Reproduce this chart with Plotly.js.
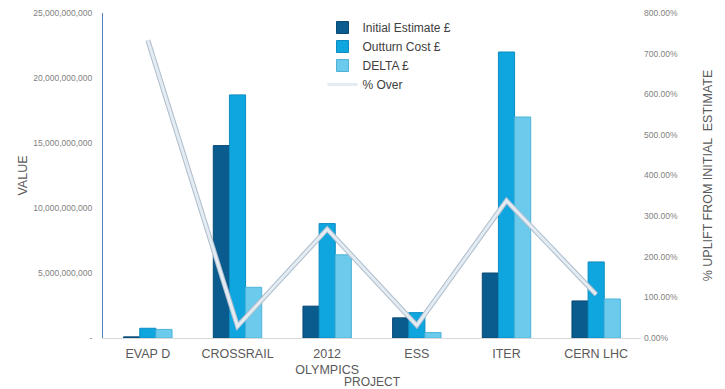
<!DOCTYPE html>
<html>
<head>
<meta charset="utf-8">
<script src="https://cdn.plot.ly/plotly-3.0.1.min.js"></script>
<style>html,body{margin:0;padding:0;background:#fff;}#chart{width:725px;height:389px;}</style>
</head>
<body>
<div id="chart"></div>
<script>
var projects = ["EVAP D", "CROSSRAIL", "2012<br>OLYMPICS", "ESS", "ITER", "CERN LHC"];
var initialEstimate = [0.09e9, 14.8e9, 2.45e9, 1.55e9, 5.0e9, 2.85e9];
var outturnCost = [0.75e9, 18.7e9, 8.8e9, 1.95e9, 22.0e9, 5.85e9];
var deltaCost = [0.66e9, 3.9e9, 6.4e9, 0.42e9, 17.0e9, 3.0e9];
var pctOver = [7.33, 0.29, 2.68, 0.31, 3.38, 1.07];
var leftTickVals = [0, 5e9, 10e9, 15e9, 20e9, 25e9];
var leftTickText = ["-", "5,000,000,000", "10,000,000,000", "15,000,000,000", "20,000,000,000", "25,000,000,000"];
var rightTickVals = [0, 1, 2, 3, 4, 5, 6, 7, 8];

var traces = [
  {type: "bar", name: "Initial Estimate £", x: projects, y: initialEstimate,
   marker: {color: "#0b5c8e", line: {color: "#084a74", width: 1}}},
  {type: "bar", name: "Outturn Cost £", x: projects, y: outturnCost,
   marker: {color: "#0fa6df", line: {color: "#0b8cc0", width: 1}}},
  {type: "bar", name: "DELTA £", x: projects, y: deltaCost,
   marker: {color: "#6ccbec", line: {color: "#4eb2d8", width: 1}}},
  {type: "scatter", mode: "lines", name: "% Over", x: projects, y: pctOver, yaxis: "y2",
   line: {color: "#aebccb", width: 5}, showlegend: false, hoverinfo: "skip"},
  {type: "scatter", mode: "lines", name: "% Over", x: projects, y: pctOver, yaxis: "y2",
   line: {color: "#e3ebf3", width: 3}}
];

var layout = {
  width: 725, height: 389,
  margin: {l: 103, r: 84, t: 13, b: 51},
  paper_bgcolor: "#ffffff", plot_bgcolor: "#ffffff",
  font: {family: "Liberation Sans, Arial, sans-serif", color: "#595959"},
  barmode: "group", bargap: 0.46, bargroupgap: 0,
  showlegend: true,
  legend: {x: 0.408, y: 1.0, xanchor: "left", yanchor: "top", bgcolor: "rgba(0,0,0,0)",
           font: {size: 12, color: "#404040"}, tracegroupgap: 6, itemwidth: 30},
  xaxis: {
    showline: true, linecolor: "#d9d9d9", linewidth: 1, ticks: "", showgrid: false,
    tickfont: {size: 12.5, color: "#595959"}, ticklabelstandoff: 4,
    title: {text: "PROJECT", font: {size: 12, color: "#595959"}, standoff: 2}
  },
  yaxis: {
    range: [0, 25e9], tickvals: leftTickVals, ticktext: leftTickText,
    showline: true, linecolor: "#4f81bd", linewidth: 1, showgrid: false, zeroline: false,
    ticks: "", tickfont: {size: 8.5, color: "#7f7f7f"}, ticklabelstandoff: 8,
    title: {text: "VALUE", font: {size: 12.5, color: "#595959"}, standoff: 2}
  },
  yaxis2: {
    overlaying: "y", side: "right", range: [0, 8], tickvals: rightTickVals,
    tickformat: ".2%", showline: false, showgrid: false, zeroline: false, ticks: "",
    tickfont: {size: 8.5, color: "#7f7f7f"}, ticklabelstandoff: 2,
    title: {text: "% UPLIFT FROM INITIAL  ESTIMATE", font: {size: 12.5, color: "#595959"}, standoff: 26}
  }
};

Plotly.newPlot("chart", traces, layout, {displayModeBar: false, staticPlot: true});
</script>
</body>
</html>
